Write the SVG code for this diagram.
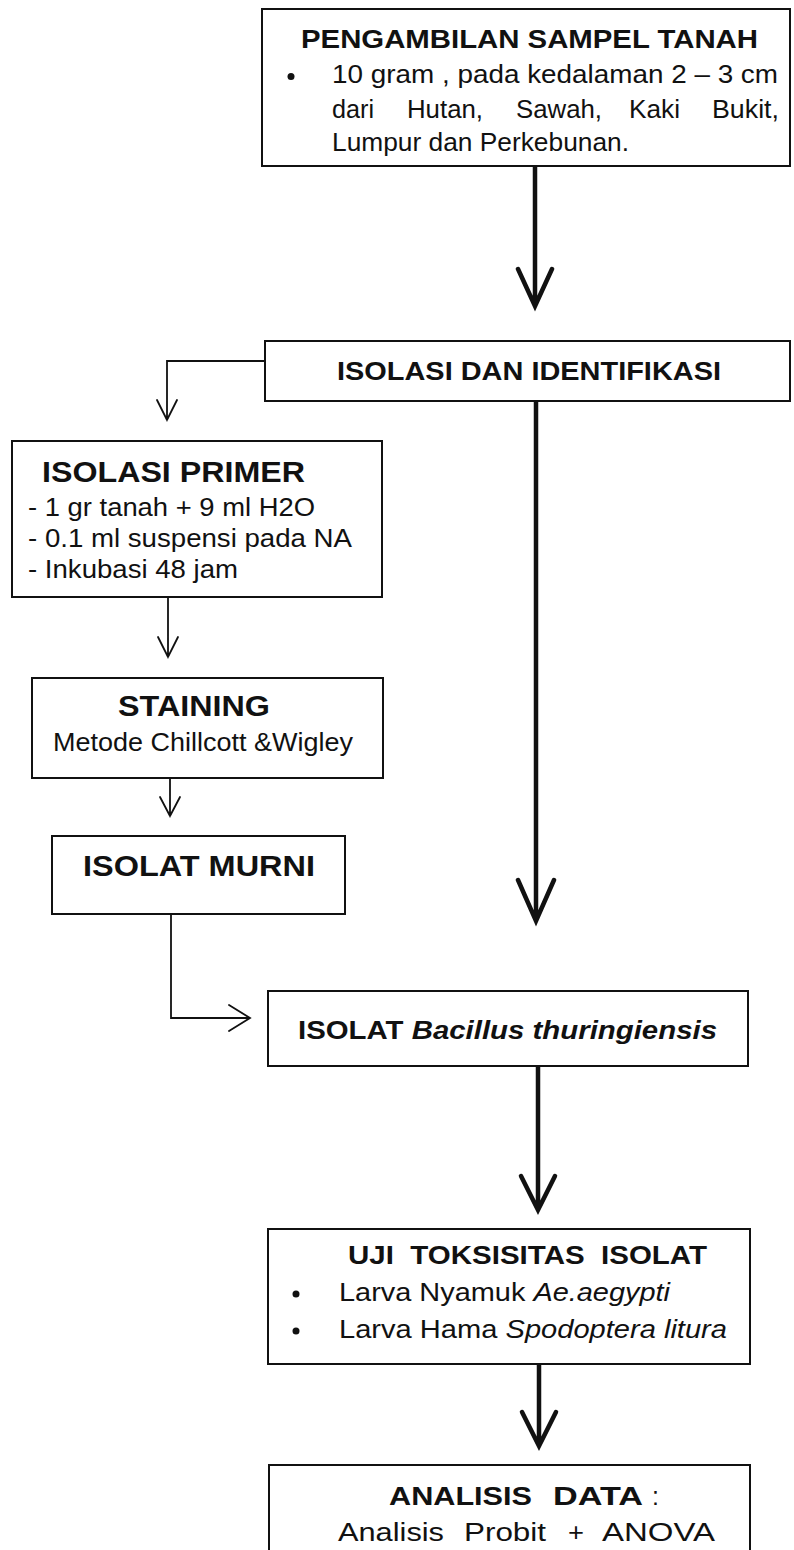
<svg xmlns="http://www.w3.org/2000/svg" width="794" height="1550" viewBox="0 0 794 1550">
<style>
.box{fill:#fff;stroke:#111;stroke-width:2}
.t{font-family:"Liberation Sans",Arial,sans-serif;fill:#111;white-space:pre}
.b{font-weight:bold}
.i{font-style:italic}
.thick{fill:none;stroke:#111;stroke-width:4.5;stroke-linejoin:miter;stroke-linecap:round}
.thin{fill:none;stroke:#111;stroke-width:1.8;stroke-linecap:round}
</style>
<rect width="794" height="1550" fill="#fff"/>
<g id="connectors">
<path class="thick" d="M535,166 V305 M518,269 L535,306 L552,269"/>
<path class="thin" d="M265,361 H167 V420 M157,400 L167,420 L177,400"/>
<path class="thin" d="M168,597 V657 M158,637 L168,657 L178,637"/>
<path class="thin" d="M170,778 V816 M160,797 L170,816 L180,797"/>
<path class="thin" d="M171,914 V1018 H250 M229,1005 L250,1018 L229,1031"/>
<path class="thick" d="M536,401 V920 M518,880 L536,921 L554,880"/>
<path class="thick" d="M538,1066 V1209 M521,1176 L538,1210 L555,1176"/>
<path class="thick" d="M539,1364 V1445 M522,1412 L539,1446 L556,1412"/>
</g>
<g id="pengambilan">
<rect class="box" x="262" y="9" width="528" height="157"/>
<text class="t b" x="301" y="48" font-size="25" textLength="457" lengthAdjust="spacingAndGlyphs">PENGAMBILAN SAMPEL TANAH</text>
<circle cx="291" cy="76.5" r="3.5" fill="#111"/>
<text class="t" x="332" y="83" font-size="25" textLength="446" lengthAdjust="spacingAndGlyphs">10 gram , pada kedalaman 2 – 3 cm</text>
<text class="t" x="332" y="118" font-size="25" textLength="42" lengthAdjust="spacingAndGlyphs">dari</text>
<text class="t" x="407" y="118" font-size="25" textLength="76" lengthAdjust="spacingAndGlyphs">Hutan,</text>
<text class="t" x="516" y="118" font-size="25" textLength="86" lengthAdjust="spacingAndGlyphs">Sawah,</text>
<text class="t" x="629" y="118" font-size="25" textLength="51" lengthAdjust="spacingAndGlyphs">Kaki</text>
<text class="t" x="712" y="118" font-size="25" textLength="67" lengthAdjust="spacingAndGlyphs">Bukit,</text>
<text class="t" x="332" y="151" font-size="25" textLength="297" lengthAdjust="spacingAndGlyphs">Lumpur dan Perkebunan.</text>
</g>
<g id="isolasi-identifikasi">
<rect class="box" x="265" y="341" width="525" height="60"/>
<text class="t b" x="337" y="380" font-size="25" textLength="384" lengthAdjust="spacingAndGlyphs">ISOLASI DAN IDENTIFIKASI</text>
</g>
<g id="isolasi-primer">
<rect class="box" x="12" y="441" width="370" height="156"/>
<text class="t b" x="42" y="482" font-size="29" textLength="263" lengthAdjust="spacingAndGlyphs">ISOLASI PRIMER</text>
<text class="t" x="28" y="516" font-size="25" textLength="287" lengthAdjust="spacingAndGlyphs">- 1 gr tanah + 9 ml H2O</text>
<text class="t" x="28" y="547" font-size="25" textLength="324" lengthAdjust="spacingAndGlyphs">- 0.1 ml suspensi pada NA</text>
<text class="t" x="28" y="578" font-size="25" textLength="210" lengthAdjust="spacingAndGlyphs">- Inkubasi 48 jam</text>
</g>
<g id="staining">
<rect class="box" x="32" y="678" width="351" height="100"/>
<text class="t b" x="118" y="716" font-size="29" textLength="152" lengthAdjust="spacingAndGlyphs">STAINING</text>
<text class="t" x="53" y="751" font-size="25" textLength="300" lengthAdjust="spacingAndGlyphs">Metode Chillcott &amp;Wigley</text>
</g>
<g id="isolat-murni">
<rect class="box" x="52" y="836" width="293" height="78"/>
<text class="t b" x="83" y="876" font-size="29" textLength="232" lengthAdjust="spacingAndGlyphs">ISOLAT MURNI</text>
</g>
<g id="isolat-bt">
<rect class="box" x="268" y="991" width="480" height="75"/>
<text class="t b" x="298" y="1039" font-size="25" textLength="419" lengthAdjust="spacingAndGlyphs">ISOLAT <tspan class="i">Bacillus thuringiensis</tspan></text>
</g>
<g id="uji-toksisitas">
<rect class="box" x="268" y="1229" width="482" height="135"/>
<text class="t b" x="348" y="1264" font-size="26" textLength="359" lengthAdjust="spacingAndGlyphs">UJI  TOKSISITAS  ISOLAT</text>
<circle cx="296" cy="1294" r="3.5" fill="#111"/>
<circle cx="296" cy="1331" r="3.5" fill="#111"/>
<text class="t" x="339" y="1301" font-size="25" textLength="331" lengthAdjust="spacingAndGlyphs">Larva Nyamuk <tspan class="i">Ae.aegypti</tspan></text>
<text class="t" x="339" y="1338" font-size="25" textLength="388" lengthAdjust="spacingAndGlyphs">Larva Hama <tspan class="i">Spodoptera litura</tspan></text>
</g>
<g id="analisis-data">
<rect class="box" x="269" y="1465" width="481" height="110"/>
<text class="t b" x="389" y="1505" font-size="26" textLength="143" lengthAdjust="spacingAndGlyphs">ANALISIS</text>
<text class="t b" x="553" y="1505" font-size="26" textLength="90" lengthAdjust="spacingAndGlyphs">DATA</text>
<text class="t" x="652" y="1505" font-size="25">:</text>
<text class="t" x="338" y="1541" font-size="25" textLength="106" lengthAdjust="spacingAndGlyphs">Analisis</text>
<text class="t" x="464" y="1541" font-size="25" textLength="82" lengthAdjust="spacingAndGlyphs">Probit</text>
<text class="t" x="568" y="1541" font-size="25" textLength="16" lengthAdjust="spacingAndGlyphs">+</text>
<text class="t" x="602" y="1541" font-size="25" textLength="113" lengthAdjust="spacingAndGlyphs">ANOVA</text>
</g>
</svg>
